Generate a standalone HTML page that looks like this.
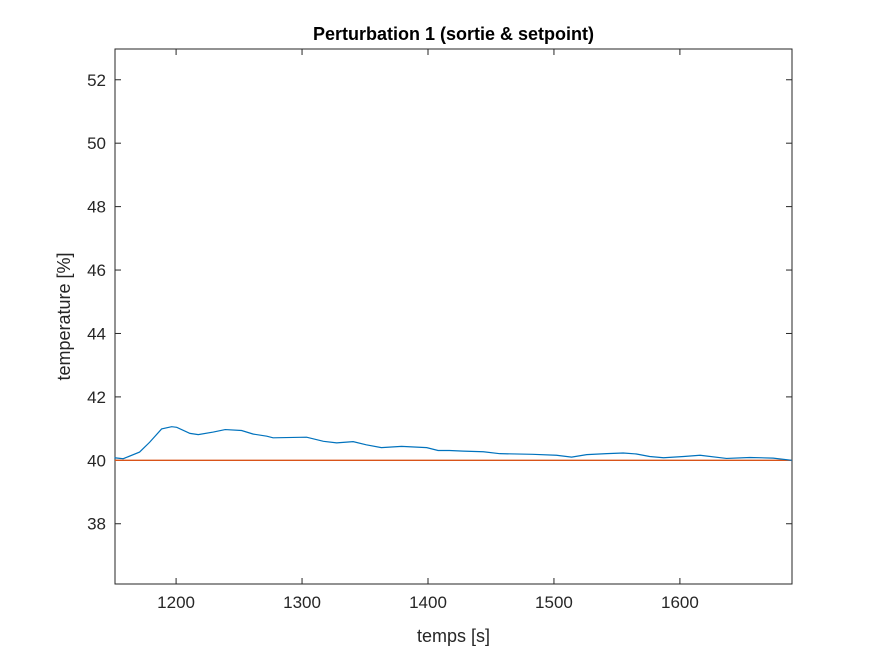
<!DOCTYPE html>
<html><head><meta charset="utf-8"><style>
body{margin:0;background:#fff;}
svg text{font-family:"Liberation Sans",Arial,sans-serif;}
</style></head><body>
<svg id="chart" width="875" height="656" xmlns="http://www.w3.org/2000/svg">
<rect x="0" y="0" width="875" height="656" fill="#fff"/>
<g id="plot"></g>
</svg>
<script>
const times = [1151,1158,1171,1179,1188.5,1196.5,1200.5,1211,1217.6,1229.5,1239,1252,1261,1272,1277,1303.6,1317,1327.5,1340.6,1351,1363,1379,1399,1408,1417,1428,1444,1457,1483,1502,1514,1526,1542,1555,1565.5,1576,1587,1603,1616,1637,1655.5,1674,1689];
const temps = [40.08,40.05,40.26,40.57,40.99,41.06,41.04,40.85,40.81,40.89,40.97,40.94,40.83,40.76,40.71,40.73,40.6,40.55,40.59,40.49,40.4,40.44,40.4,40.31,40.31,40.29,40.27,40.21,40.19,40.16,40.1,40.18,40.21,40.23,40.2,40.12,40.08,40.12,40.16,40.06,40.09,40.07,40.0];
const setpoint = [40,40];
const setpointTimes = [1151.5,1689];
const xTicks = [1200,1300,1400,1500,1600];
const yTicks = [38,40,42,44,46,48,50,52];

const L=115,R=792,T=49,B=584;
const xMin=1151.5,xMax=1689,yMin=36.1,yMax=52.97;
const xs=v=>L+(v-xMin)/(xMax-xMin)*(R-L);
const ys=v=>B-(v-yMin)/(yMax-yMin)*(B-T);
const NS="http://www.w3.org/2000/svg";
const g=document.getElementById('plot');
function mk(tag,attrs){const e=document.createElementNS(NS,tag);for(const k in attrs)e.setAttribute(k,attrs[k]);g.appendChild(e);return e;}

const frame=mk('rect',{x:L,y:T,width:R-L,height:B-T,fill:'#fff',stroke:'#262626','stroke-width':1});



xTicks.forEach(t=>{
  const x=xs(t);
  const a=mk('line',{x1:x,x2:x,y1:B,y2:B-6,stroke:'#262626'});
  
  
  const b=mk('line',{x1:x,x2:x,y1:T,y2:T+6,stroke:'#262626'});
  
  
  const tx=mk('text',{x:x,y:B+24,'text-anchor':'middle','font-size':17,fill:'#262626'});
  tx.textContent=t;
  
  
});
yTicks.forEach(t=>{
  const y=ys(t);
  const a=mk('line',{x1:L,x2:L+6,y1:y,y2:y,stroke:'#262626'});
  
  
  const b=mk('line',{x1:R,x2:R-6,y1:y,y2:y,stroke:'#262626'});
  
  
  const tx=mk('text',{x:L-9,y:y+6,'text-anchor':'end','font-size':17,fill:'#262626'});
  tx.textContent=t;
  
  
});

const sp=mk('polyline',{points:setpointTimes.map((t,i)=>xs(t)+','+ys(setpoint[i])).join(' '),fill:'none',stroke:'#D95319','stroke-width':1.3});


const out=mk('polyline',{points:times.map((t,i)=>xs(t)+','+ys(temps[i])).join(' '),fill:'none',stroke:'#0072BD','stroke-width':1.2});



const title=mk('text',{x:(L+R)/2,y:40,'text-anchor':'middle','font-size':18,'font-weight':'bold',fill:'#000'});
title.textContent='Perturbation 1 (sortie & setpoint)';


const xl=mk('text',{x:(L+R)/2,y:642,'text-anchor':'middle','font-size':18,fill:'#262626'});
xl.textContent='temps [s]';


const yl=mk('text',{x:0,y:0,'text-anchor':'middle','font-size':18,fill:'#262626',transform:'translate(70,'+((T+B)/2)+') rotate(-90)'});
yl.textContent='temperature [%]';


</script>
</body></html>
